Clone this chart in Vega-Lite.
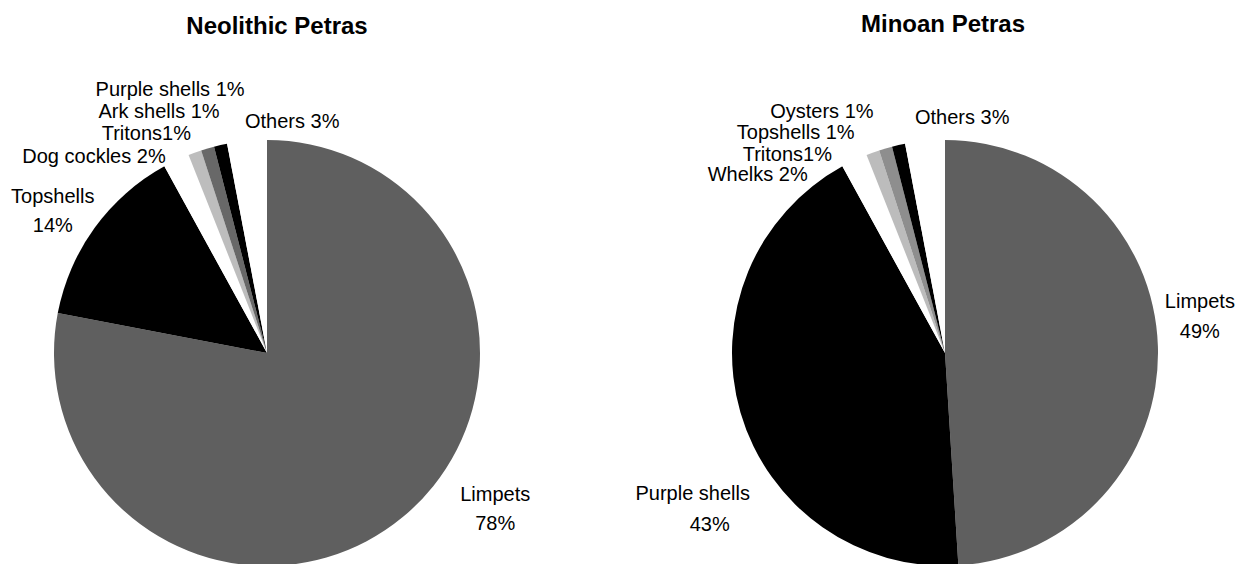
{
  "$schema": "https://vega.github.io/schema/vega-lite/v6.json",
  "autosize": {"type": "pad"},
  "padding": {"top": 13, "left": 0, "right": 0, "bottom": 0},
  "background": "white",
  "datasets": {
    "neolithic": [
      {"taxon": "Limpets", "share": 0.78, "order": 1, "label": "Limpets\n78%"},
      {"taxon": "Topshells", "share": 0.14, "order": 2, "label": "Topshells\n14%"},
      {"taxon": "Dog cockles", "share": 0.02, "order": 3, "label": "Dog cockles 2%"},
      {"taxon": "Tritons", "share": 0.01, "order": 4, "label": "Tritons1%"},
      {"taxon": "Ark shells", "share": 0.01, "order": 5, "label": "Ark shells 1%"},
      {"taxon": "Purple shells", "share": 0.01, "order": 6, "label": "Purple shells 1%"},
      {"taxon": "Others", "share": 0.03, "order": 7, "label": "Others 3%"}
    ],
    "minoan": [
      {"taxon": "Limpets", "share": 0.49, "order": 1, "label": "Limpets\n49%"},
      {"taxon": "Purple shells", "share": 0.43, "order": 2, "label": "Purple shells\n43%"},
      {"taxon": "Whelks", "share": 0.02, "order": 3, "label": "Whelks 2%"},
      {"taxon": "Tritons", "share": 0.01, "order": 4, "label": "Tritons1%"},
      {"taxon": "Topshells", "share": 0.01, "order": 5, "label": "Topshells 1%"},
      {"taxon": "Oysters", "share": 0.01, "order": 6, "label": "Oysters 1%"},
      {"taxon": "Others", "share": 0.03, "order": 7, "label": "Others 3%"}
    ]
  },
  "bounds": "flush",
  "spacing": 144,
  "hconcat": [
    {
      "data": {"name": "neolithic"},
      "width": 534,
      "height": 424,
      "title": {"text": "Neolithic Petras", "baseline": "alphabetic", "offset": -6, "dx": 10},
      "encoding": {
        "theta": {"field": "share", "type": "quantitative", "stack": true, "scale": {"domain": [0, 1]}},
        "order": {"field": "order", "type": "quantitative"}
      },
      "layer": [
        {
          "mark": {"type": "arc", "radius": 213},
          "encoding": {
            "color": {
              "field": "taxon", "type": "nominal", "legend": null,
              "scale": {
                "domain": ["Limpets", "Topshells", "Dog cockles", "Tritons", "Ark shells", "Purple shells", "Others"],
                "range": ["#5f5f5f", "#000000", "#ffffff", "#bdbdbd", "#686868", "#000000", "#ffffff"]
              }
            }
          }
        },
        {
          "mark": {"type": "text", "radius": 245, "dx": 72, "dy": -41, "align": "center", "baseline": "alphabetic", "lineBreak": "\n", "lineHeight": 29},
          "encoding": {"detail": {"field": "taxon"}, "text": {"condition": {"test": "datum.taxon === 'Limpets'", "field": "label", "type": "nominal"}, "value": ""}}
        },
        {
          "mark": {"type": "text", "radius": 245, "dx": -16, "dy": -6, "align": "center", "baseline": "alphabetic", "lineBreak": "\n", "lineHeight": 29},
          "encoding": {"detail": {"field": "taxon"}, "text": {"condition": {"test": "datum.taxon === 'Topshells'", "field": "label", "type": "nominal"}, "value": ""}}
        },
        {
          "mark": {"type": "text", "radius": 245, "dx": 3, "dy": 32, "align": "right", "baseline": "alphabetic"},
          "encoding": {"detail": {"field": "taxon"}, "text": {"condition": {"test": "datum.taxon === 'Dog cockles'", "field": "label", "type": "nominal"}, "value": ""}}
        },
        {
          "mark": {"type": "text", "radius": 245, "dx": 7, "dy": 17.5, "align": "right", "baseline": "alphabetic", "letterSpacing": 1},
          "encoding": {"detail": {"field": "taxon"}, "text": {"condition": {"test": "datum.taxon === 'Tritons'", "field": "label", "type": "nominal"}, "value": ""}}
        },
        {
          "mark": {"type": "text", "radius": 245, "dx": 21, "dy": 0, "align": "right", "baseline": "alphabetic"},
          "encoding": {"detail": {"field": "taxon"}, "text": {"condition": {"test": "datum.taxon === 'Ark shells'", "field": "label", "type": "nominal"}, "value": ""}}
        },
        {
          "mark": {"type": "text", "radius": 245, "dx": 31, "dy": -18, "align": "right", "baseline": "alphabetic"},
          "encoding": {"detail": {"field": "taxon"}, "text": {"condition": {"test": "datum.taxon === 'Purple shells'", "field": "label", "type": "nominal"}, "value": ""}}
        },
        {
          "mark": {"type": "text", "radius": 245, "dx": 1, "dy": 19, "align": "left", "baseline": "alphabetic"},
          "encoding": {"detail": {"field": "taxon"}, "text": {"condition": {"test": "datum.taxon === 'Others'", "field": "label", "type": "nominal"}, "value": ""}}
        }
      ]
    },
    {
      "data": {"name": "minoan"},
      "width": 534,
      "height": 424,
      "title": {"text": "Minoan Petras", "baseline": "alphabetic", "offset": -6, "dx": -2, "dy": -6},
      "encoding": {
        "theta": {"field": "share", "type": "quantitative", "stack": true, "scale": {"domain": [0, 1]}},
        "order": {"field": "order", "type": "quantitative"}
      },
      "layer": [
        {
          "mark": {"type": "arc", "radius": 213},
          "encoding": {
            "color": {
              "field": "taxon", "type": "nominal", "legend": null,
              "scale": {
                "domain": ["Limpets", "Purple shells", "Whelks", "Tritons", "Topshells", "Oysters", "Others"],
                "range": ["#5f5f5f", "#000000", "#ffffff", "#bcbcbc", "#8e8e8e", "#000000", "#ffffff"]
              }
            }
          }
        },
        {
          "mark": {"type": "text", "radius": 245, "dx": 10, "dy": -37, "align": "center", "baseline": "alphabetic", "lineBreak": "\n", "lineHeight": 30},
          "encoding": {"detail": {"field": "taxon"}, "text": {"condition": {"test": "datum.taxon === 'Limpets'", "field": "label", "type": "nominal"}, "value": ""}}
        },
        {
          "mark": {"type": "text", "radius": 245, "dx": -17, "dy": 79, "align": "center", "baseline": "alphabetic"},
          "encoding": {"detail": {"field": "taxon"}, "text": {"condition": {"test": "datum.taxon === 'Purple shells'", "field": "taxon", "type": "nominal"}, "value": ""}}
        },
        {
          "mark": {"type": "text", "radius": 245, "dx": 0, "dy": 110, "align": "center", "baseline": "alphabetic"},
          "encoding": {"detail": {"field": "taxon"}, "text": {"condition": {"test": "datum.taxon === 'Purple shells'", "field": "share", "type": "quantitative", "format": ".0%"}, "value": ""}}
        },
        {
          "mark": {"type": "text", "radius": 245, "dx": -33, "dy": 50, "align": "right", "baseline": "alphabetic"},
          "encoding": {"detail": {"field": "taxon"}, "text": {"condition": {"test": "datum.taxon === 'Whelks'", "field": "label", "type": "nominal"}, "value": ""}}
        },
        {
          "mark": {"type": "text", "radius": 245, "dx": -30, "dy": 38.5, "align": "right", "baseline": "alphabetic", "letterSpacing": 1},
          "encoding": {"detail": {"field": "taxon"}, "text": {"condition": {"test": "datum.taxon === 'Tritons'", "field": "label", "type": "nominal"}, "value": ""}}
        },
        {
          "mark": {"type": "text", "radius": 245, "dx": -22, "dy": 21, "align": "right", "baseline": "alphabetic"},
          "encoding": {"detail": {"field": "taxon"}, "text": {"condition": {"test": "datum.taxon === 'Topshells'", "field": "label", "type": "nominal"}, "value": ""}}
        },
        {
          "mark": {"type": "text", "radius": 245, "dx": -18, "dy": 4, "align": "right", "baseline": "alphabetic"},
          "encoding": {"detail": {"field": "taxon"}, "text": {"condition": {"test": "datum.taxon === 'Oysters'", "field": "label", "type": "nominal"}, "value": ""}}
        },
        {
          "mark": {"type": "text", "radius": 245, "dx": -7, "dy": 15, "align": "left", "baseline": "alphabetic"},
          "encoding": {"detail": {"field": "taxon"}, "text": {"condition": {"test": "datum.taxon === 'Others'", "field": "label", "type": "nominal"}, "value": ""}}
        }
      ]
    }
  ],
  "resolve": {"scale": {"color": "independent", "theta": "independent"}},
  "config": {
    "view": {"stroke": null},
    "text": {"font": "Liberation Sans", "fontSize": 20, "color": "#000000"},
    "title": {"font": "Liberation Sans", "fontSize": 24, "fontWeight": "bold", "color": "#000000", "anchor": "middle"}
  }
}
